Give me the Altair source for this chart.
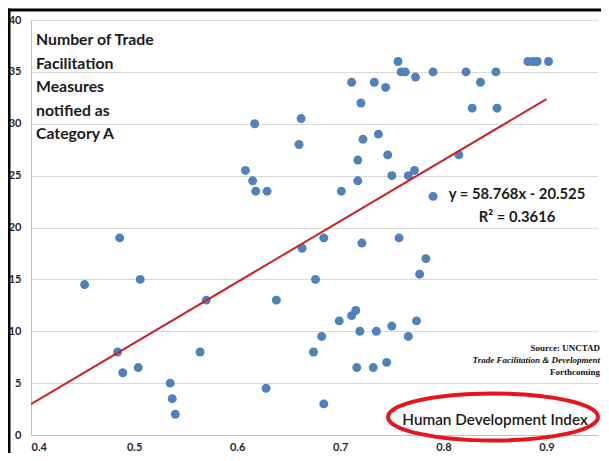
import altair as alt
import pandas as pd

# Data
hdi = [0.452, 0.486, 0.506, 0.484, 0.489, 0.504, 0.535, 0.537, 0.540, 0.564, 0.570, 0.628, 0.638, 0.663, 0.674,
       0.617, 0.608, 0.615, 0.618, 0.629, 0.662, 0.660,
       0.756, 0.759, 0.763, 0.773, 0.790, 0.822, 0.836, 0.851, 0.882, 0.887, 0.891, 0.902,
       0.711, 0.733, 0.744, 0.720, 0.828, 0.852, 0.722, 0.737, 0.717, 0.746, 0.815, 0.717, 0.750, 0.766, 0.772, 0.701, 0.790,
       0.684, 0.721, 0.757, 0.783, 0.777, 0.676, 0.715, 0.711, 0.699, 0.774, 0.719, 0.735, 0.750, 0.682, 0.766, 0.716, 0.732, 0.745, 0.684]
measures = [14.5, 19, 15, 8, 6, 6.5, 5, 3.5, 2, 8, 13, 4.5, 13, 18, 8,
            30, 25.5, 24.5, 23.5, 23.5, 30.5, 28,
            36, 35, 35, 34.5, 35, 35, 34, 35, 36, 36, 36, 36,
            34, 34, 33.5, 32, 31.5, 31.5, 28.5, 29, 26.5, 27, 27, 24.5, 25, 25, 25.5, 23.5, 23,
            19, 18.5, 19, 17, 15.5, 15, 12, 11.5, 11, 11, 10, 10, 10.5, 9.5, 9.5, 6.5, 6.5, 7, 3]

x_ticks = [0.4, 0.5, 0.6, 0.7, 0.8, 0.9]
y_ticks = [0, 5, 10, 15, 20, 25, 30, 35, 40]

slope = 58.768
intercept = -20.525
trend_x = [0.4, 0.9]

title_lines = ["Number of Trade", "Facilitation", "Measures", "notified as", "Category A"]
eq_lines = ["y = 58.768x - 20.525", "R\u00b2 = 0.3616"]
source_lines = ["Source: UNCTAD", "Trade Facilitation & Development", "Forthcoming"]
x_label = "Human Development Index"

W, H = 567, 415

pts = pd.DataFrame({"hdi": hdi, "m": measures})
trend = pd.DataFrame({"hdi": trend_x, "m": [slope * x + intercept for x in trend_x]})
one = pd.DataFrame({"k": [0]})

xs = alt.Scale(domain=[0.4, 0.95], nice=False, zero=False)
ys = alt.Scale(domain=[0, 40], nice=False)

lab = dict(labelFont="Lato", labelFontWeight="bold", labelFontSize=11, labelColor="#262626")
x_axis = alt.Axis(values=x_ticks, format=".1f", title=None, grid=False, ticks=False,
                  labelPadding=6, domainColor="#bfbfbf", **lab)
y_axis = alt.Axis(values=y_ticks, title=None, grid=True, gridColor="#d9d9d9", ticks=False,
                  labelPadding=10, domainColor="#bfbfbf", **lab)

points = alt.Chart(pts).mark_circle(size=80, color="#4f81bd", opacity=1).encode(
    x=alt.X("hdi:Q", scale=xs, axis=x_axis),
    y=alt.Y("m:Q", scale=ys, axis=y_axis),
)

line = alt.Chart(trend).mark_line(color="#c8232c", strokeWidth=2).encode(
    x=alt.X("hdi:Q", scale=xs), y=alt.Y("m:Q", scale=ys)
)

title = alt.Chart(one).mark_text(text=title_lines, align="left", baseline="top", font="Lato",
                                 fontWeight="bold", fontSize=15.8, lineHeight=23.5, color="#1a1a1a").encode(
    x=alt.value(5), y=alt.value(13.2))

eq = alt.Chart(one).mark_text(text=eq_lines, align="center", baseline="top", font="Lato",
                              fontWeight="bold", fontSize=14.8, lineHeight=23, color="#1a1a1a").encode(
    x=alt.value(486), y=alt.value(166.5))

src_common = dict(align="right", baseline="top", font="Liberation Serif", fontWeight="bold",
                  fontSize=9, color="#111")
source1 = alt.Chart(one).mark_text(text=source_lines[0], **src_common).encode(
    x=alt.value(569), y=alt.value(324))
source2 = alt.Chart(one).mark_text(text=source_lines[1], fontStyle="italic", **src_common).encode(
    x=alt.value(569), y=alt.value(336))
source3 = alt.Chart(one).mark_text(text=source_lines[2], **src_common).encode(
    x=alt.value(569), y=alt.value(347.5))

hdi_text = alt.Chart(one).mark_text(text=x_label, align="center", baseline="middle", font="Lato",
                                    fontWeight=600, fontSize=15.3, color="#1a1a1a").encode(
    x=alt.value(464), y=alt.value(400))

ellipse = alt.Chart(one).mark_point(
    shape="M -1 0 A 1 0.2238 0 1 0 1 0 A 1 0.2238 0 1 0 -1 0",
    size=210 * 210, filled=False, stroke="#e8141b", strokeWidth=4, opacity=1,
).encode(x=alt.value(462), y=alt.value(397))

top_rule = alt.Chart(one).mark_rule(color="black", strokeWidth=3).encode(
    x=alt.value(-23), x2=alt.value(570), y=alt.value(-10))
left_rule = alt.Chart(one).mark_rule(color="black", strokeWidth=2.5).encode(
    x=alt.value(-21.75), y=alt.value(-11.5), y2=alt.value(433))

chart = alt.layer(points, line, title, eq, source1, source2, source3, ellipse, hdi_text,
                  top_rule, left_rule).properties(
    width=W, height=H,
    autosize=alt.AutoSizeParams(type="none"),
    padding={"left": 23, "top": 12, "right": 3, "bottom": 18},
    background="white",
).configure_view(stroke=None)

chart.save("out.html", embed_options={"renderer": "svg", "actions": False})
